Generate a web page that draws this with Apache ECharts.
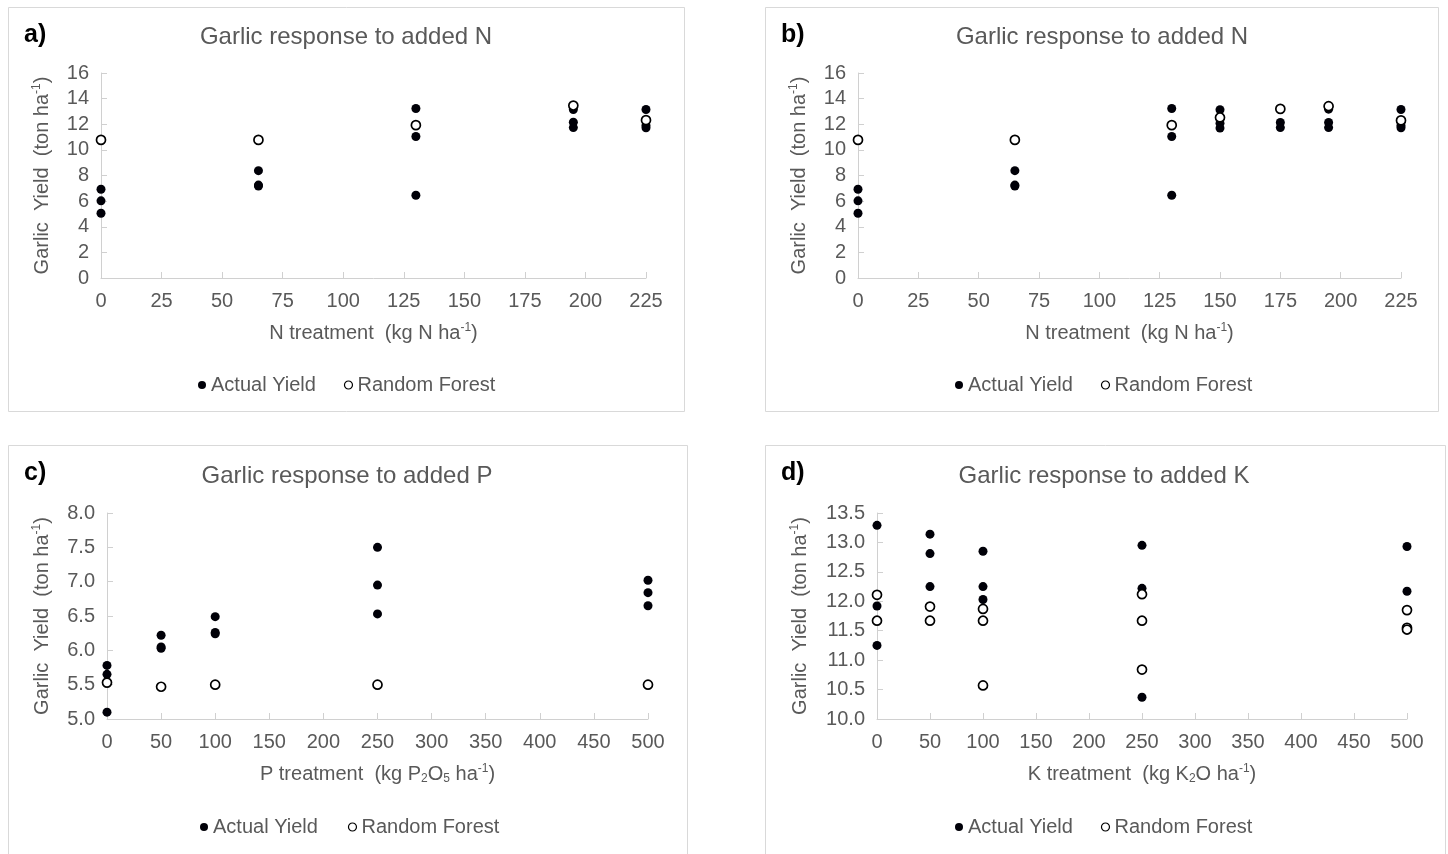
<!DOCTYPE html>
<html>
<head>
<meta charset="utf-8">
<script src="https://cdn.jsdelivr.net/npm/echarts@6/dist/echarts.min.js"></script>
<style>
html,body{margin:0;padding:0;background:#fff;}
#chart{width:1448px;height:854px;}
</style>
</head>
<body>
<div id="chart"></div>
<script>
// ---------- DATA ----------
const seriesNames = ['Actual Yield', 'Random Forest'];
const panelLabels = ['a)', 'b)', 'c)', 'd)'];
const panelTitles = ['Garlic response to added N', 'Garlic response to added N', 'Garlic response to added P', 'Garlic response to added K'];

// Panel a: N treatment
const aActual = [[0,6.93],[0,6.02],[0,5.05],[65,8.38],[65,7.25],[65,7.18],[130,13.23],[130,11.04],[130,6.46],[195,13.15],[195,12.16],[195,11.74],[225,13.15],[225,11.90],[225,11.72]];
const aForest = [[0,10.78],[65,10.78],[130,11.93],[195,13.46],[225,12.32]];

// Panel b: N treatment (more levels)
const bActual = [[0,6.93],[0,6.02],[0,5.05],[65,8.38],[65,7.25],[65,7.18],[130,13.23],[130,11.04],[130,6.46],[150,13.13],[150,12.08],[150,11.70],[175,12.14],[175,11.74],[195,13.18],[195,12.14],[195,11.74],[225,13.15],[225,11.90],[225,11.73]];
const bForest = [[0,10.78],[65,10.78],[130,11.93],[150,12.53],[175,13.20],[195,13.41],[225,12.30]];

// Panel c: P treatment
const cActual = [[0,5.78],[0,5.65],[0,5.10],[50,6.22],[50,6.05],[50,6.03],[100,6.49],[100,6.26],[100,6.24],[250,7.50],[250,6.95],[250,6.53],[500,7.02],[500,6.84],[500,6.65]];
const cForest = [[0,5.53],[50,5.47],[100,5.50],[250,5.50],[500,5.50]];

// Panel d: K treatment
const dActual = [[0,13.29],[0,11.92],[0,11.25],[50,13.14],[50,12.81],[50,12.25],[100,12.85],[100,12.25],[100,12.03],[250,12.95],[250,12.22],[250,10.37],[500,12.93],[500,12.17],[500,11.52]];
const dForest = [[0,12.11],[0,11.67],[50,11.91],[50,11.67],[100,11.87],[100,11.67],[100,10.57],[250,12.12],[250,11.67],[250,10.84],[500,11.85],[500,11.55],[500,11.52]];

// Axis ranges / ticks
const xRanges = [[0,225,25],[0,225,25],[0,500,50],[0,500,50]];
const yRanges = [[0,16,2],[0,16,2],[5,8,0.5],[10,13.5,0.5]];
const yDecimals = [0,0,1,1];
const xNames = [
  'N treatment  (kg N ha{sup|-1})',
  'N treatment  (kg N ha{sup|-1})',
  'P treatment  (kg P{sub|2}O{sub|5} ha{sup|-1})',
  'K treatment  (kg K{sub|2}O ha{sup|-1})'
];
const yName = 'Garlic  Yield  (ton ha{sup|-1})';

// ---------- LAYOUT ----------
const FONT = "'Liberation Sans', Arial, sans-serif";
const GRAY = '#595959';
const AXIS = '#d0d0d0';
const DOT = '#000008';
const grids = [
  {left:101, top:73, width:545, height:205},
  {left:858, top:73, width:543, height:205},
  {left:107, top:513, width:541, height:206},
  {left:877, top:513, width:530, height:206}
];
const yNameGaps = [48, 48, 54, 66];
const boxes = [
  {x:8, y:7, w:676, h:404},
  {x:765, y:7, w:673, h:404},
  {x:8, y:445, w:679, h:420},
  {x:765, y:445, w:680, h:420}
];
const titlePos = [[346,37],[1102,37],[347,476],[1104,476]];
const labelPos = [[24,35],[781,35],[24,473],[781,473]];
const legendPos = [[193,370],[950,370],[195,812],[950,812]];
const legendGaps = [28, 28, 30, 28];

const rich = {
  sup: {fontSize: 12, verticalAlign: 'top', color: GRAY, fontFamily: FONT, lineHeight: 22},
  sub: {fontSize: 12, verticalAlign: 'bottom', color: GRAY, fontFamily: FONT, lineHeight: 22}
};

const actualSets = [aActual, bActual, cActual, dActual];
const forestSets = [aForest, bForest, cForest, dForest];

const xAxes = [], yAxes = [], series = [], legends = [], graphics = [];
for (let i = 0; i < 4; i++) {
  xAxes.push({
    type: 'value', gridIndex: i,
    min: xRanges[i][0], max: xRanges[i][1], interval: xRanges[i][2],
    name: xNames[i], nameLocation: 'middle', nameGap: 44,
    nameTextStyle: {fontSize: 20, color: GRAY, fontFamily: FONT, lineHeight: 22, rich: rich},
    axisLine: {show: true, lineStyle: {color: AXIS, width: 1}},
    axisTick: {show: true, inside: true, length: 6, lineStyle: {color: AXIS}},
    axisLabel: {fontSize: 20, color: GRAY, fontFamily: FONT, margin: 13},
    splitLine: {show: false}
  });
  const dec = yDecimals[i];
  yAxes.push({
    type: 'value', gridIndex: i,
    min: yRanges[i][0], max: yRanges[i][1], interval: yRanges[i][2],
    name: yName, nameLocation: 'middle', nameGap: yNameGaps[i],
    nameTextStyle: {fontSize: 20, color: GRAY, fontFamily: FONT, lineHeight: 22, rich: rich},
    axisLine: {show: true, lineStyle: {color: AXIS, width: 1}},
    axisTick: {show: true, inside: true, length: 6, lineStyle: {color: AXIS}},
    axisLabel: {fontSize: 20, color: GRAY, fontFamily: FONT, margin: 12,
      formatter: v => v.toFixed(dec)},
    splitLine: {show: false}
  });
  series.push({
    name: seriesNames[0], type: 'scatter', xAxisIndex: i, yAxisIndex: i,
    data: actualSets[i], symbol: 'circle', symbolSize: 9, clip: false,
    itemStyle: {color: DOT, borderWidth: 0, opacity: 1},
    emphasis: {disabled: true}
  });
  series.push({
    name: seriesNames[1], type: 'scatter', xAxisIndex: i, yAxisIndex: i,
    data: forestSets[i], symbol: 'circle', symbolSize: 9, clip: false,
    itemStyle: {color: '#ffffff', borderColor: '#000000', borderWidth: 1.7, opacity: 1},
    emphasis: {disabled: true}
  });
  legends.push({
    left: legendPos[i][0], top: legendPos[i][1], orient: 'horizontal',
    itemWidth: 8, itemHeight: 8, itemGap: legendGaps[i],
    data: [
      {name: seriesNames[0], icon: 'circle', itemStyle: {color: DOT, borderWidth: 0, opacity: 1}},
      {name: seriesNames[1], icon: 'circle', itemStyle: {color: '#ffffff', borderColor: '#000', borderWidth: 1.2, opacity: 1}}
    ],
    textStyle: {fontSize: 20, color: GRAY, fontFamily: FONT},
    selectedMode: false
  });
  graphics.push({
    type: 'rect', shape: {x: boxes[i].x + 0.5, y: boxes[i].y + 0.5, width: boxes[i].w, height: boxes[i].h},
    style: {fill: 'none', stroke: '#d9d9d9', lineWidth: 1}, z: -10, silent: true
  });
  graphics.push({
    type: 'text', x: titlePos[i][0], y: titlePos[i][1],
    style: {text: panelTitles[i], fontSize: 24, fontFamily: FONT, fill: GRAY, align: 'center', verticalAlign: 'middle'}
  });
  graphics.push({
    type: 'text', x: labelPos[i][0], y: labelPos[i][1],
    style: {text: panelLabels[i], fontSize: 25, fontWeight: 'bold', fontFamily: FONT, fill: '#000', align: 'left', verticalAlign: 'middle'}
  });
}

const chart = echarts.init(document.getElementById('chart'), null, {renderer: 'canvas'});
chart.setOption({
  backgroundColor: '#ffffff',
  animation: false,
  grid: grids,
  xAxis: xAxes,
  yAxis: yAxes,
  series: series,
  legend: legends,
  graphic: graphics
});
</script>
</body>
</html>
